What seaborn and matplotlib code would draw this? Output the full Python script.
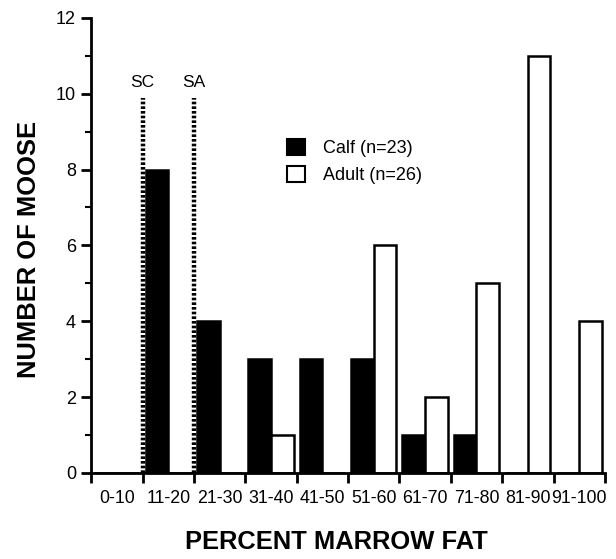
import matplotlib
matplotlib.use("Agg")
import matplotlib.pyplot as plt
import seaborn as sns
import pandas as pd
from matplotlib.patches import Patch
from matplotlib.ticker import MultipleLocator

categories = ["0-10", "11-20", "21-30", "31-40", "41-50", "51-60",
              "61-70", "71-80", "81-90", "91-100"]
calf = [0, 8, 4, 3, 3, 3, 1, 1, 0, 0]
adult = [0, 0, 0, 1, 0, 6, 2, 5, 11, 4]
series_labels = ["Calf (n=23)", "Adult (n=26)"]
marker_labels = ["SC", "SA"]
marker_pos = [0.5, 1.5]

sns.set_style("ticks")
plt.rcParams["font.family"] = ["Liberation Sans", "DejaVu Sans"]
for k in ["text.color", "axes.labelcolor", "xtick.color", "ytick.color",
          "axes.edgecolor"]:
    plt.rcParams[k] = "black"

df = pd.DataFrame({
    "range": categories * 2,
    "count": calf + adult,
    "age": ["Calf"] * len(categories) + ["Adult"] * len(categories),
})

fig = plt.figure(figsize=(6.16, 5.59), dpi=100)
ax = fig.add_axes([0.148, 0.154, 0.834, 0.814])

sns.barplot(data=df, x="range", y="count", hue="age", order=categories,
            hue_order=["Calf", "Adult"],
            palette={"Calf": "black", "Adult": "white"},
            edgecolor="black", linewidth=1.8, width=0.88, gap=0,
            ax=ax, legend=False)

ax.set_xlim(-0.5, 9.5)
ax.set_ylim(0, 12)

# dotted threshold lines
ax.vlines(marker_pos, 0, 9.9, colors="black", linewidth=3.2,
          linestyles=(0, (0.6, 0.45)), zorder=5)
for xp, lab in zip(marker_pos, marker_labels):
    ax.text(xp, 10.3, lab, ha="center", va="center", fontsize=12.5)

# axes styling
for s in ["top", "right"]:
    ax.spines[s].set_visible(False)
for s in ["left", "bottom"]:
    ax.spines[s].set_linewidth(2)

ax.yaxis.set_major_locator(MultipleLocator(2))
ax.yaxis.set_minor_locator(MultipleLocator(1))
ax.tick_params(axis="y", which="major", length=7, width=2, labelsize=13, pad=4)
ax.tick_params(axis="y", which="minor", length=4, width=1.5)

# x: ticks at category boundaries, labels at centres
ax.set_xticks([i - 0.5 for i in range(len(categories) + 1)])
ax.set_xticklabels([])
ax.set_xticks(range(len(categories)), minor=True)
ax.set_xticklabels(categories, minor=True, fontsize=12.8)
ax.tick_params(axis="x", which="major", length=7, width=2)
ax.tick_params(axis="x", which="minor", length=0, pad=12)

ax.set_xlabel("PERCENT MARROW FAT", fontsize=18.4, fontweight="bold")
ax.set_ylabel("NUMBER OF MOOSE", fontsize=18.4, fontweight="bold")
ax.xaxis.set_label_coords(0.477, -0.126)
ax.yaxis.set_label_coords(-0.097, 0.49)

handles = [Patch(facecolor="black", edgecolor="black", linewidth=1.5),
           Patch(facecolor="white", edgecolor="black", linewidth=1.5)]
ax.legend(handles, series_labels, loc="upper left",
          bbox_to_anchor=(0.35, 0.77), frameon=False, fontsize=13,
          handlelength=1.0, handleheight=1.0, handletextpad=1.0,
          labelspacing=0.5)

fig.savefig("out.png", dpi=100)
